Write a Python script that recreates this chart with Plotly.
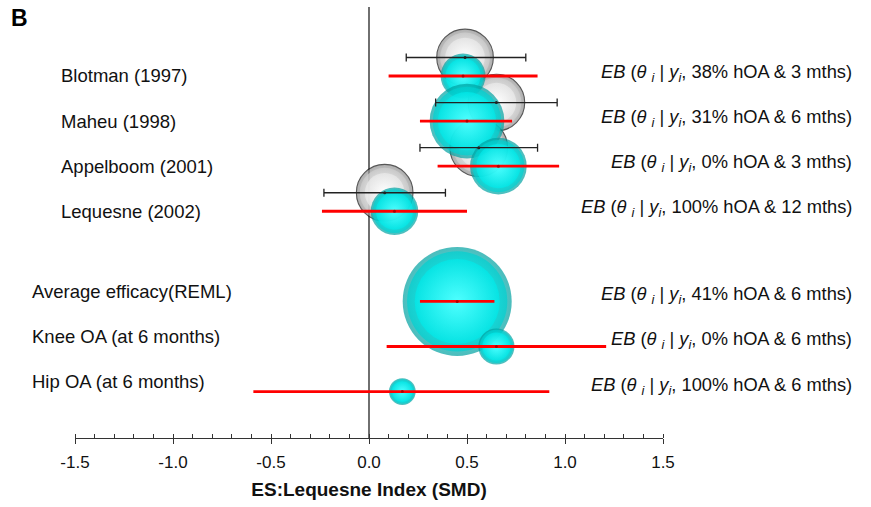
import plotly.graph_objects as go

# ---------------- data ----------------
studies = ["Blotman (1997)", "Maheu (1998)", "Appelboom (2001)", "Lequesne (2002)"]
summaries = ["Average efficacy(REML)", "Knee OA (at 6 months)", "Hip OA (at 6 months)"]

# observed study effects (grey spheres, black 95% CI)
obs_mean = [0.49, 0.65, 0.56, 0.08]
obs_lo = [0.19, 0.34, 0.26, -0.23]
obs_hi = [0.80, 0.96, 0.86, 0.39]
obs_weight = [27, 27, 28, 27]

# empirical Bayes estimates (cyan spheres, red intervals)
eb_mean = [0.48, 0.50, 0.66, 0.13, 0.45, 0.65, 0.17]
eb_lo = [0.10, 0.26, 0.35, -0.24, 0.26, 0.09, -0.59]
eb_hi = [0.86, 0.73, 0.97, 0.50, 0.64, 1.21, 0.92]
eb_weight = [17, 47, 27, 19, 100, 11, 6]
hoa_pct = [38, 31, 0, 100, 41, 0, 100]
months = [3, 6, 3, 12, 6, 6, 6]

tick_vals = [-1.5, -1.0, -0.5, 0.0, 0.5, 1.0, 1.5]
tick_text = ["-1.5", "-1.0", "-0.5", "0.0", "0.5", "1.0", "1.5"]

# ---------------- layout helpers ----------------
FONT = "Liberation Sans, Arial, sans-serif"
eb_rows = [i + 1 for i in range(len(studies))] + [len(studies) + 2 + j for j in range(len(summaries))]
obs_rows = [r - 0.41 for r in eb_rows[:len(studies)]]

MAX_D = 109
sizeref = 2.0 * max(eb_weight) / MAX_D ** 2

cyan_layers = [(1.0, "#00a0a0", "#00ffff"), (0.92, "#00d0d0", "#00ffff"), (0.78, "#00eaea", "#66ffff")]
grey_layers = [(1.0, "#8e8e8e", "#ffffff"), (0.88, "#cfcfcf", "#ffffff"), (0.7, "#ebebeb", "#ffffff")]

fig = go.Figure()

# grey spheres (observed)
for i in range(len(studies)):
    for k, (f, edge, centre) in enumerate(grey_layers):
        fig.add_trace(go.Scatter(
            x=[obs_mean[i]], y=[obs_rows[i]], mode="markers", hoverinfo="skip",
            marker=dict(size=[obs_weight[i]], sizemode="area", sizeref=sizeref / f ** 2,
                        color=edge, gradient=dict(type="radial", color=centre),
                        line=dict(color="#111111", width=1.1 if k == 0 else 0)),
            showlegend=False))

# cyan spheres (EB)
for i in range(len(eb_mean)):
    for f, edge, centre in cyan_layers:
        fig.add_trace(go.Scatter(
            x=[eb_mean[i]], y=[eb_rows[i]], mode="markers", hoverinfo="skip",
            marker=dict(size=[eb_weight[i]], sizemode="area", sizeref=sizeref / f ** 2,
                        color=edge, gradient=dict(type="radial", color=centre),
                        line=dict(width=0)),
            showlegend=False))

# black CIs for observed effects
fig.add_trace(go.Scatter(
    x=obs_mean, y=obs_rows, mode="markers", xaxis="x2",
    marker=dict(size=3, color="#222222"),
    error_x=dict(type="data", symmetric=False,
                 array=[h - m for h, m in zip(obs_hi, obs_mean)],
                 arrayminus=[m - l for m, l in zip(obs_mean, obs_lo)],
                 color="#222222", thickness=1.3, width=4),
    showlegend=False))

# red intervals for EB estimates
fig.add_trace(go.Scatter(
    x=eb_mean, y=eb_rows, mode="markers", xaxis="x2",
    marker=dict(size=3, color="#b00000"),
    error_x=dict(type="data", symmetric=False,
                 array=[h - m for h, m in zip(eb_hi, eb_mean)],
                 arrayminus=[m - l for m, l in zip(eb_mean, eb_lo)],
                 color="#ff0000", thickness=2.8, width=0),
    showlegend=False))

annotations = []
# left labels
for i, name in enumerate(studies):
    annotations.append(dict(text=name, xref="paper", yref="y", x=-0.027, y=eb_rows[i],
                            xanchor="left", yanchor="middle", showarrow=False,
                            font=dict(family=FONT, size=18.5, color="#111111")))
for j, name in enumerate(summaries):
    annotations.append(dict(text=name, xref="paper", yref="y", x=-0.0765, y=eb_rows[len(studies) + j],
                            xanchor="left", yanchor="middle", yshift=10, showarrow=False,
                            font=dict(family=FONT, size=18.5, color="#111111")))
# right EB labels
for i in range(len(eb_mean)):
    txt = ("<i>EB</i> (<i>θ</i> <sub><i>i</i></sub> | <i>y<sub>i</sub></i>, "
           f"{hoa_pct[i]}% hOA &amp; {months[i]} mths)")
    annotations.append(dict(text=txt, xref="paper", yref="y", x=1.325, y=eb_rows[i],
                            xanchor="right", yanchor="middle",
                            yshift=3 if i < len(studies) else 6, showarrow=False,
                            font=dict(family=FONT, size=18.3, color="#111111")))
# panel letter
annotations.append(dict(text="<b>B</b>", xref="paper", yref="paper", x=-0.094, y=0.975,
                        xanchor="center", yanchor="middle", showarrow=False,
                        font=dict(family=FONT, size=23, color="#000000")))

fig.update_layout(
    width=871, height=507,
    margin=dict(l=75, r=208, t=7, b=69),
    paper_bgcolor="white", plot_bgcolor="white",
    showlegend=False,
    annotations=annotations,
    shapes=[dict(type="line", xref="x", yref="paper", x0=0, x1=0, y0=0, y1=1,
                 line=dict(color="#333333", width=1.4), layer="below")],
    xaxis=dict(range=[-1.5, 1.5], tickmode="array", tickvals=tick_vals, ticktext=tick_text,
               ticks="outside", ticklen=5, tickwidth=1.3, tickcolor="#333333",
               showline=True, linecolor="#333333", linewidth=1.3,
               showgrid=False, zeroline=False,
               minor=dict(ticks="inside", tick0=0, dtick=0.1, ticklen=3.5, tickwidth=1.1,
                          tickcolor="#333333", showgrid=False),
               tickfont=dict(family=FONT, size=17, color="#111111"),
               ticklabelstandoff=3,
               title=dict(text="<b>ES:Lequesne Index (SMD)</b>", standoff=12,
                          font=dict(family=FONT, size=19, color="#111111"))),
    xaxis2=dict(range=[-1.5, 1.5], overlaying="x", anchor="y", side="bottom",
                tickmode="array", tickvals=tick_vals, ticks="inside", ticklen=4,
                tickwidth=1.3, tickcolor="#333333", showticklabels=False,
                showline=False, showgrid=False, zeroline=False),
    yaxis=dict(range=[9.03, -0.53], visible=False, showgrid=False, zeroline=False),
)

fig.write_html("out.html", config={"displayModeBar": False},
               post_script="document.body.style.margin='0';document.body.style.overflow='hidden';")
